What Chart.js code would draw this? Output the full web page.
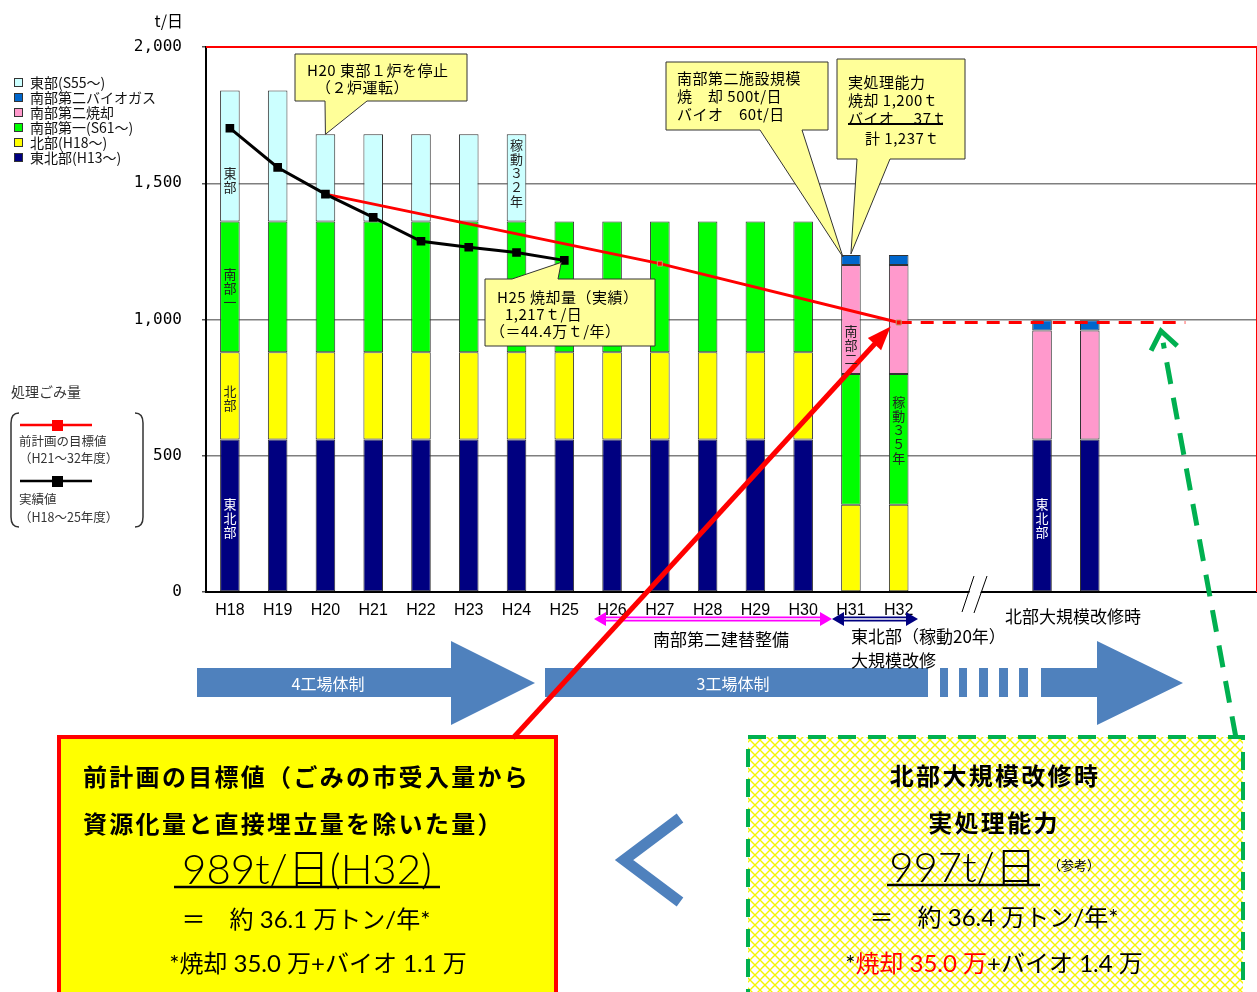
<!DOCTYPE html>
<html lang="ja">
<head>
<meta charset="utf-8">
<title>処理ごみ量</title>
<script src="https://cdn.jsdelivr.net/npm/chart.js@4.4.1/dist/chart.umd.min.js"></script>
<style>
  html, body { margin: 0; padding: 0; background: #fff; overflow: hidden; }
  #wrap { position: relative; width: 1257px; height: 992px; overflow: hidden; font-family: "Noto Sans CJK JP", sans-serif; }
  #chart { position: absolute; left: 0; top: 0; }
  .t { position: absolute; white-space: nowrap; line-height: 1; color: #000; }
  .v { position: absolute; writing-mode: vertical-rl; text-orientation: upright; font-size: 13px; line-height: 1; letter-spacing: 1px; transform: translateX(-50%); color: #222; }
  .sw { display: inline-block; width: 7px; height: 7px; border: 1px solid #333; margin-right: 7px; vertical-align: 1px; }
</style>
</head>
<body>
<div id="wrap">
  <canvas id="chart" width="1264" height="992"></canvas>
</div>
<script>
// 年度（H33以降の枠は北部大規模改修時の表示用）
const categories = ['H18', 'H19', 'H20', 'H21', 'H22', 'H23', 'H24', 'H25', 'H26', 'H27', 'H28', 'H29', 'H30', 'H31', 'H32', '', '', '', '', '', '', ''];

// 施設別の処理能力 (t/日)
const tohokubu = [560, 560, 560, 560, 560, 560, 560, 560, 560, 560, 560, 560, 560, null, null, null, null, 560, 560, null, null, null];
const hokubu   = [320, 320, 320, 320, 320, 320, 320, 320, 320, 320, 320, 320, 320, 320, 320, null, null, null, null, null, null, null];
const nanbu1   = [480, 480, 480, 480, 480, 480, 480, 480, 480, 480, 480, 480, 480, 480, 480, null, null, null, null, null, null, null];
const nanbu2   = [null, null, null, null, null, null, null, null, null, null, null, null, null, 400, 400, null, null, 400, 400, null, null, null];
const biogas   = [null, null, null, null, null, null, null, null, null, null, null, null, null, 37, 37, null, null, 37, 37, null, null, null];
const tobu     = [480, 480, 320, 320, 320, 320, 320, null, null, null, null, null, null, null, null, null, null, null, null, null, null, null];

// 処理ごみ量 (t/日)
const jisseki      = [1702, 1558, 1460, 1375, 1287, 1265, 1246, 1217, null, null, null, null, null, null, null, null, null, null, null, null, null, null];
const mokuhyo      = [null, null, 1460, null, null, null, null, null, null, 1205, null, null, null, null, 989, null, null, null, null, null, null, null];
const mokuhyoAfter = [null, null, null, null, null, null, null, null, null, null, null, null, null, null, 989, 989, 989, 989, 989, 989, 989, null];

const wrap = document.getElementById('wrap');

function put(html, x, y, o = {}) {
  const d = document.createElement('div');
  d.className = 't';
  d.innerHTML = html;
  const size = o.size || 14;
  d.style.fontSize = size + 'px';
  d.style.top = (y - size / 2) + 'px';
  if (o.align === 'center') {
    d.style.left = x + 'px';
    d.style.transform = 'translateX(-50%)';
  } else if (o.align === 'right') {
    d.style.right = (1257 - x) + 'px';
  } else {
    d.style.left = x + 'px';
  }
  if (o.weight) d.style.fontWeight = o.weight;
  if (o.color) d.style.color = o.color;
  if (o.family) d.style.fontFamily = o.family;
  if (o.ls) d.style.letterSpacing = o.ls + 'px';
  wrap.appendChild(d);
}

function vput(text, x, y, color) {
  const d = document.createElement('div');
  d.className = 'v';
  d.textContent = text;
  d.style.left = x + 'px';
  d.style.top = y + 'px';
  if (color) d.style.color = color;
  wrap.appendChild(d);
}

// 吹き出し
function callout(c, box, base, tip, side) {
  const [x1, y1, x2, y2] = box;
  c.beginPath();
  if (side === 'bottom') {
    c.moveTo(x1, y1); c.lineTo(x2, y1); c.lineTo(x2, y2);
    c.lineTo(base[1], y2); c.lineTo(tip[0], tip[1]); c.lineTo(base[0], y2);
    c.lineTo(x1, y2);
  } else {
    c.moveTo(x1, y1); c.lineTo(base[0], y1); c.lineTo(tip[0], tip[1]);
    c.lineTo(base[1], y1); c.lineTo(x2, y1); c.lineTo(x2, y2); c.lineTo(x1, y2);
  }
  c.closePath();
  c.fillStyle = '#ffff99';
  c.fill();
  c.strokeStyle = '#333';
  c.lineWidth = 1;
  c.stroke();
}

function poly(c, pts, fill) {
  c.beginPath();
  c.moveTo(pts[0][0], pts[0][1]);
  for (let i = 1; i < pts.length; i++) c.lineTo(pts[i][0], pts[i][1]);
  c.closePath();
  c.fillStyle = fill;
  c.fill();
}

function dblArrow(c, xa, xb, y, col) {
  c.strokeStyle = col;
  c.lineWidth = 5;
  c.beginPath(); c.moveTo(xa + 8, y); c.lineTo(xb - 8, y); c.stroke();
  c.strokeStyle = '#fff';
  c.lineWidth = 1.5;
  c.beginPath(); c.moveTo(xa + 10, y); c.lineTo(xb - 10, y); c.stroke();
  poly(c, [[xa, y], [xa + 12, y - 7], [xa + 12, y + 7]], col);
  poly(c, [[xb, y], [xb - 12, y - 7], [xb - 12, y + 7]], col);
}

function hatch(c) {
  const p = document.createElement('canvas');
  p.width = 10; p.height = 10;
  const g = p.getContext('2d');
  g.fillStyle = '#ffffff';
  g.fillRect(0, 0, 10, 10);
  g.strokeStyle = '#f5f500';
  g.lineWidth = 1.4;
  g.beginPath();
  g.moveTo(-2, -2); g.lineTo(12, 12);
  g.moveTo(12, -2); g.lineTo(-2, 12);
  g.stroke();
  return c.createPattern(p, 'repeat');
}

const overlay = {
  id: 'overlay',
  afterDatasetsDraw(chart) {
    const c = chart.ctx;
    const a = chart.chartArea;
    c.save();
    // 赤枠
    c.strokeStyle = '#ff0000';
    c.lineWidth = 2;
    c.beginPath();
    c.moveTo(a.left, a.top); c.lineTo(a.right, a.top); c.lineTo(a.right, a.bottom);
    c.stroke();
    c.restore();
  },
  afterDraw(chart) {
    const c = chart.ctx;
    const xs = chart.scales.x;
    const ys = chart.scales.y;
    c.save();

    // 吹き出し
    callout(c, [295, 54, 467, 101], [325, 367], [xs.getPixelForValue(2), ys.getPixelForValue(1676) - 1], 'bottom');
    callout(c, [485, 279, 655, 346], [512, 558], [xs.getPixelForValue(7) - 3, ys.getPixelForValue(1217) + 2], 'top');
    callout(c, [666, 62, 828, 130], [760, 802], [xs.getPixelForValue(13) - 8, ys.getPixelForValue(1237) + 2], 'bottom');
    callout(c, [837, 59, 965, 159], [857, 890], [xs.getPixelForValue(13), ys.getPixelForValue(1237) - 1], 'bottom');
    c.strokeStyle = '#000';
    c.lineWidth = 2;
    c.beginPath(); c.moveTo(848, 124); c.lineTo(943, 124); c.stroke();

    // 軸の省略記号
    poly(c, [[963, 612], [975, 576], [986, 576], [974, 612]], '#fff');
    c.strokeStyle = '#000';
    c.lineWidth = 1;
    c.beginPath();
    c.moveTo(962, 612); c.lineTo(974, 576);
    c.moveTo(974, 613); c.lineTo(987, 576);
    c.stroke();

    // 凡例（処理ごみ量）
    c.strokeStyle = '#333';
    c.lineWidth = 1.5;
    c.beginPath();
    c.moveTo(19, 413); c.quadraticCurveTo(11, 413, 11, 423); c.lineTo(11, 517); c.quadraticCurveTo(11, 527, 19, 527);
    c.moveTo(135, 413); c.quadraticCurveTo(143, 413, 143, 423); c.lineTo(143, 517); c.quadraticCurveTo(143, 527, 135, 527);
    c.stroke();
    c.lineWidth = 2.5;
    c.strokeStyle = '#ff0000';
    c.beginPath(); c.moveTo(20, 425); c.lineTo(92, 425); c.stroke();
    c.fillStyle = '#ff0000'; c.fillRect(52, 420, 11, 11);
    c.strokeStyle = '#000';
    c.beginPath(); c.moveTo(20, 481); c.lineTo(92, 481); c.stroke();
    c.fillStyle = '#000'; c.fillRect(52, 476, 11, 11);

    // 期間の矢印
    dblArrow(c, 594, 832, 619, '#ff00ff');
    dblArrow(c, 832, 918, 619, '#000080');

    // 工場体制の矢印
    const blue = '#4f81bd';
    poly(c, [[197, 668], [451, 668], [451, 641], [535, 683], [451, 725], [451, 697], [197, 697]], blue);
    poly(c, [[545, 668], [928, 668], [928, 697], [545, 697]], blue);
    [[940, 948], [959, 967], [979, 988], [999, 1008], [1019, 1028]].forEach(([l, r]) => {
      poly(c, [[l, 668], [r, 668], [r, 697], [l, 697]], blue);
    });
    poly(c, [[1041, 668], [1097, 668], [1097, 641], [1183, 683], [1097, 725], [1097, 697], [1041, 697]], blue);

    // 下段の枠
    c.fillStyle = '#ffff00';
    c.fillRect(59, 737, 497, 270);
    c.strokeStyle = '#ff0000';
    c.lineWidth = 4;
    c.strokeRect(59, 737, 497, 270);

    c.fillStyle = hatch(c);
    c.fillRect(748, 737, 495, 270);
    c.strokeStyle = '#00b050';
    c.lineWidth = 4;
    c.setLineDash([18, 12]);
    c.strokeRect(748, 737, 495, 270);
    c.setLineDash([]);

    // ＜
    c.strokeStyle = blue;
    c.lineWidth = 11;
    c.lineJoin = 'miter';
    c.beginPath(); c.moveTo(680, 818); c.lineTo(624, 860); c.lineTo(680, 902); c.stroke();

    // 下線
    c.strokeStyle = '#000';
    c.lineWidth = 2.5;
    c.beginPath(); c.moveTo(174, 887); c.lineTo(440, 887); c.stroke();
    c.beginPath(); c.moveTo(887, 885); c.lineTo(1040, 885); c.stroke();

    // 赤い矢印（前計画の目標値 → H32）
    const tx = xs.getPixelForValue(14) - 8, ty = ys.getPixelForValue(989) + 4;
    const sx = 513, sy = 738;
    let dx = tx - sx, dy = ty - sy;
    let len = Math.hypot(dx, dy);
    let ux = dx / len, uy = dy / len;
    c.strokeStyle = '#ff0000';
    c.lineWidth = 5;
    c.beginPath(); c.moveTo(sx, sy); c.lineTo(tx - ux * 20, ty - uy * 20); c.stroke();
    poly(c, [[tx, ty], [tx - ux * 24 - uy * 9, ty - uy * 24 + ux * 9], [tx - ux * 24 + uy * 9, ty - uy * 24 - ux * 9]], '#ff0000');

    // 緑の点線矢印
    const gx = 1161, gy = 331, hx = 1236, hy = 738;
    dx = hx - gx; dy = hy - gy; len = Math.hypot(dx, dy);
    ux = dx / len; uy = dy / len;
    c.strokeStyle = '#00b050';
    c.lineWidth = 5;
    c.setLineDash([22, 14]);
    c.beginPath(); c.moveTo(hx, hy); c.lineTo(gx + ux * 12, gy + uy * 12); c.stroke();
    c.setLineDash([]);
    const ang = 0.65;
    const ax1 = gx + 22 * (ux * Math.cos(ang) - uy * Math.sin(ang));
    const ay1 = gy + 22 * (ux * Math.sin(ang) + uy * Math.cos(ang));
    const ax2 = gx + 22 * (ux * Math.cos(-ang) - uy * Math.sin(-ang));
    const ay2 = gy + 22 * (ux * Math.sin(-ang) + uy * Math.cos(-ang));
    c.beginPath(); c.moveTo(ax1, ay1); c.lineTo(gx, gy); c.lineTo(ax2, ay2); c.stroke();

    c.restore();
  }
};

const barBase = {
  borderColor: '#333',
  borderWidth: 1,
  borderSkipped: false,
  barPercentage: 0.41,
  categoryPercentage: 1,
  stack: 'bars',
  order: 2
};

const chart = new Chart(document.getElementById('chart').getContext('2d'), {
  type: 'bar',
  data: {
    labels: categories,
    datasets: [
      { ...barBase, label: '東北部(H13～)', data: tohokubu, backgroundColor: '#000080' },
      { ...barBase, label: '北部(H18～)', data: hokubu, backgroundColor: '#ffff00' },
      { ...barBase, label: '南部第一(S61～)', data: nanbu1, backgroundColor: '#00ff00' },
      { ...barBase, label: '南部第二焼却', data: nanbu2, backgroundColor: '#ff99cc' },
      { ...barBase, label: '南部第二バイオガス', data: biogas, backgroundColor: '#0066cc' },
      { ...barBase, label: '東部(S55～)', data: tobu, backgroundColor: '#ccffff' },
      {
        type: 'line', label: '前計画の目標値', data: mokuhyo, stack: 'l1', order: 1,
        borderColor: '#ff0000', borderWidth: 3, spanGaps: true,
        pointStyle: 'rect', pointRadius: ctx => (ctx.dataIndex === 9 || ctx.dataIndex === 14) ? 3.5 : 0,
        pointBackgroundColor: '#ff0000', pointBorderColor: '#b8a070', pointBorderWidth: 1
      },
      {
        type: 'line', label: '前計画の目標値（H32以降）', data: mokuhyoAfter, stack: 'l2', order: 1,
        borderColor: '#ff0000', borderWidth: 3, borderDash: [13, 9], pointRadius: 0
      },
      {
        type: 'line', label: '実績値', data: jisseki, stack: 'l3', order: 0,
        borderColor: '#000', borderWidth: 3, pointStyle: 'rect', pointRadius: 4,
        pointBackgroundColor: '#000', pointBorderColor: '#000'
      }
    ]
  },
  options: {
    responsive: false,
    animation: false,
    devicePixelRatio: 1,
    layout: { padding: { top: 47, right: 1, bottom: 372, left: 0 } },
    plugins: {
      legend: { display: false },
      tooltip: { enabled: false }
    },
    scales: {
      x: {
        stacked: true,
        grid: { display: false },
        border: { color: '#000', width: 2 },
        ticks: {
          autoSkip: false, maxRotation: 0, padding: 1, color: '#000',
          font: { family: '"Liberation Sans Narrow", "Arial Narrow", sans-serif', size: 16 }
        },
        afterFit: s => { s.height = 28; }
      },
      y: {
        stacked: true,
        min: 0,
        max: 2000,
        border: { color: '#000', width: 2 },
        grid: {
          color: c => (c.tick.value > 0 && c.tick.value < 2000) ? '#7f7f7f' : 'rgba(0,0,0,0)',
          lineWidth: 1.5,
          tickColor: '#555',
          tickLength: 4
        },
        ticks: {
          stepSize: 500, padding: 20, color: '#000',
          font: { family: '"DejaVu Sans Mono", monospace', size: 16 },
          callback: v => v.toLocaleString('en-US')
        },
        afterFit: s => { s.width = 206; }
      }
    }
  },
  plugins: [overlay]
});

// ---- テキスト ----
const xs = chart.scales.x;
put('t/日', 183, 20, { size: 16, align: 'right' });

const legendRows = [
  ['#ccffff', '東部(S55～)'],
  ['#0066cc', '南部第二バイオガス'],
  ['#ff99cc', '南部第二焼却'],
  ['#00ff00', '南部第一(S61～)'],
  ['#ffff00', '北部(H18～)'],
  ['#000080', '東北部(H13～)']
];
legendRows.forEach(([col, text], i) => {
  put('<span class="sw" style="background:' + col + '"></span>' + text, 14, 82 + i * 15, { size: 14, color: '#111' });
});

put('処理ごみ量', 11, 391, { size: 14, color: '#333' });
put('前計画の目標値', 19, 441, { size: 12.5, color: '#333' });
put('（H21～32年度）', 19, 458, { size: 12.5, color: '#333' });
put('実績値', 19, 499, { size: 12.5, color: '#333' });
put('（H18～25年度）', 19, 517, { size: 12.5, color: '#333' });

// 棒の中の縦書き
vput('東部', xs.getPixelForValue(0), 167);
vput('南部一', xs.getPixelForValue(0), 268);
vput('北部', xs.getPixelForValue(0), 385);
vput('東北部', xs.getPixelForValue(0), 498, '#fff');
vput('稼動３２年', xs.getPixelForValue(6), 139);
vput('南部二', xs.getPixelForValue(13), 325);
vput('稼動３５年', xs.getPixelForValue(14), 396);
vput('東北部', xs.getPixelForValue(17), 498, '#fff');

// 吹き出しの文字
const cf = { size: 15, ls: 0.5 };
put('H20 東部１炉を停止', 307, 69, cf);
put('（２炉運転）', 316, 86, cf);
put('H25 焼却量（実績）', 497, 296, cf);
put('1,217ｔ/日', 505, 313, cf);
put('（＝44.4万ｔ/年）', 490, 330, cf);
put('南部第二施設規模', 677, 77, cf);
put('焼　却 500t/日', 677, 95, cf);
put('バイオ　60t/日', 677, 113, cf);
put('実処理能力', 848, 81, cf);
put('焼却 1,200ｔ', 848, 99, cf);
put('バイオ　 37ｔ', 848, 117, cf);
put('計 1,237ｔ', 865, 137, cf);

// 下の注記
put('南部第二建替整備', 653, 638, { size: 17 });
put('東北部（稼動20年）', 851, 635, { size: 17 });
put('大規模改修', 851, 659, { size: 17 });
put('北部大規模改修時', 1005, 615, { size: 17 });
put('4工場体制', 328, 683, { size: 16, align: 'center', color: '#fff' });
put('3工場体制', 733, 683, { size: 16, align: 'center', color: '#fff' });

// 下段の枠の文字
const head = { size: 24, weight: 700, ls: 2.3 };
const num = { family: 'Lato, "Noto Sans CJK JP", sans-serif' };
put('前計画の目標値（ごみの市受入量から', 83, 776, head);
put('資源化量と直接埋立量を除いた量）', 83, 823, head);
put('989t/日(H32)', 307, 868, { ...num, size: 42, weight: 300, align: 'center' });
put('＝　約 36.1 万トン/年*', 306, 919, { ...num, size: 24, align: 'center' });
put('*焼却 35.0 万+バイオ 1.1 万', 318, 963, { ...num, size: 24, align: 'center' });

put('北部大規模改修時', 995, 775, { ...head, align: 'center' });
put('実処理能力', 994, 822, { ...head, align: 'center' });
put('997t/日', 963, 866, { ...num, size: 42, weight: 300, align: 'center' });
put('（参考）', 1048, 864, { size: 13 });
put('＝　約 36.4 万トン/年*', 994, 917, { ...num, size: 24, align: 'center' });
put('*<span style="color:#ff0000">焼却 35.0 万</span>+バイオ 1.4 万', 994, 963, { ...num, size: 24, align: 'center' });
</script>
</body>
</html>
